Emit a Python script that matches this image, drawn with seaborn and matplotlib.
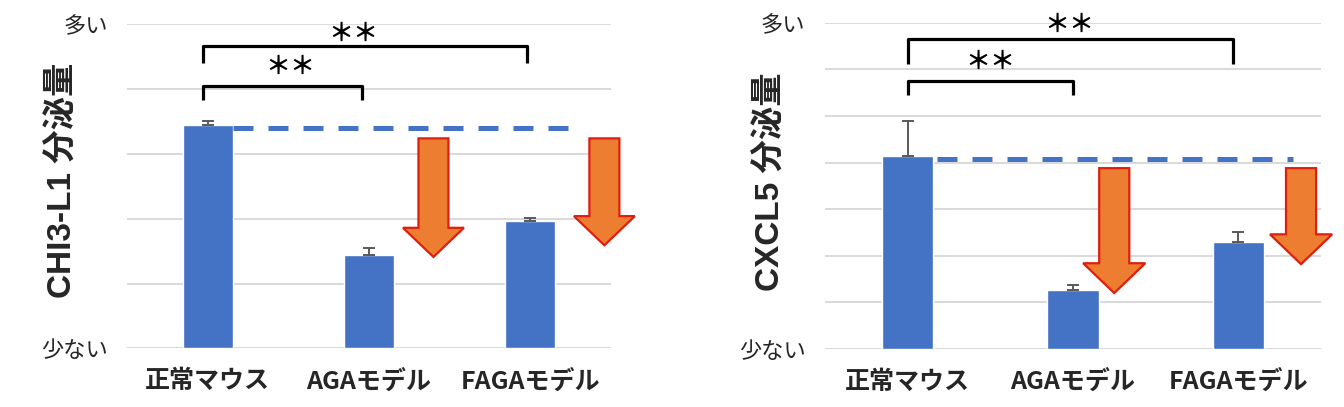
import numpy as np
import pandas as pd
import matplotlib
matplotlib.use("Agg")
import matplotlib.pyplot as plt
import seaborn as sns
from matplotlib.patches import Polygon

# データ
groups = ["正常マウス", "AGAモデル", "FAGAモデル"]
chi3_vals = [3.44, 1.44, 1.96]
chi3_err = [0.07, 0.11, 0.05]
cxcl5_vals = [4.15, 1.27, 2.30]
cxcl5_err = [0.75, 0.10, 0.20]
ylabels = ["CHI3-L1 分泌量", "CXCL5 分泌量"]
yend_labels = ["少ない", "多い"]

sns.set_style("white")
plt.rcParams["font.family"] = ["Noto Sans CJK JP", "DejaVu Sans"]

BLUE = "#4472C4"
ORANGE = "#ED7D31"
RED = "#E01E0E"
GRID = "#D9D9D9"


def arrow(ax, cx, top, head, tip, sw, hw):
    pts = [(cx - sw, top), (cx + sw, top), (cx + sw, head), (cx + hw, head),
           (cx, tip), (cx - hw, head), (cx - sw, head)]
    ax.add_patch(Polygon(pts, closed=True, facecolor=ORANGE, edgecolor=RED,
                         lw=1.6, clip_on=False, zorder=4))


def bracket(ax, x0, x1, y, yleg, sx, sy):
    ax.plot([x0, x0, x1, x1], [yleg, y, y, yleg], color="black", lw=2.3,
            solid_joinstyle="round", solid_capstyle="butt", clip_on=False, zorder=5)
    ax.text(sx, sy, "＊＊", ha="center", va="center", fontsize=18,
            fontweight="bold", color="black")


def panel(ax, vals, errs, ymax, ylabel, label_x, label_y):
    df = pd.DataFrame({"group": groups, "value": vals})
    sns.barplot(data=df, x="group", y="value", color=BLUE, saturation=1,
                width=0.31, errorbar=None, ax=ax, zorder=2)
    ax.errorbar(range(len(vals)), vals, yerr=[[0] * len(errs), errs], fmt="none",
                ecolor="#595959", elinewidth=1.4, capsize=4, capthick=1.4, zorder=3)
    ax.set_xlim(-0.5, 2.5)
    ax.set_ylim(0, ymax)
    ticks = list(range(ymax + 1))
    ax.set_yticks(ticks)
    ax.set_yticklabels([yend_labels[0]] + [""] * (ymax - 1) + [yend_labels[1]],
                       fontsize=16, color="#262626")
    ax.yaxis.grid(True, color=GRID, lw=1.4, zorder=0)
    ax.set_axisbelow(True)
    for s in ax.spines.values():
        s.set_visible(False)
    ax.tick_params(axis="both", length=0)
    ax.tick_params(axis="y", pad=14)
    ax.tick_params(axis="x", pad=15)
    for t in ax.get_xticklabels():
        t.set_fontsize(18)
        t.set_fontweight("bold")
    ax.set_xlabel("")
    ax.set_ylabel(ylabel, fontsize=24, fontweight="bold",
                  family=["Liberation Sans", "Noto Sans CJK JP"])
    ax.yaxis.set_label_coords(label_x, label_y)


fig = plt.figure(figsize=(13.44, 4.07), dpi=100)
ax1 = fig.add_axes([0.0945, 0.1442, 0.360, 0.796])
ax2 = fig.add_axes([0.6138, 0.1425, 0.369, 0.8017])

# 左: CHI3-L1
panel(ax1, chi3_vals, chi3_err, 5, ylabels[0], -0.10, 0.52)
ax1.plot([0.16, 2.29], [3.40, 3.40], color=BLUE, lw=3.6, dashes=(4, 3), zorder=3)
bracket(ax1, -0.03, 1.98, 4.67, 4.41, 0.90, 4.86)
bracket(ax1, -0.03, 0.96, 4.05, 3.83, 0.51, 4.35)
arrow(ax1, 1.40, 3.24, 1.86, 1.41, 0.093, 0.189)
arrow(ax1, 2.46, 3.24, 2.04, 1.59, 0.093, 0.189)

# 右: CXCL5
panel(ax2, cxcl5_vals, cxcl5_err, 7, ylabels[1], -0.077, 0.512)
ax2.plot([0.18, 2.33], [4.07, 4.07], color=BLUE, lw=3.6, dashes=(4, 3), zorder=3)
bracket(ax2, 0.0, 1.97, 6.65, 6.12, 0.98, 6.95)
bracket(ax2, 0.0, 1.0, 5.74, 5.45, 0.50, 6.17)
arrow(ax2, 1.25, 3.88, 1.84, 1.20, 0.091, 0.188)
arrow(ax2, 2.38, 3.88, 2.46, 1.82, 0.091, 0.188)

fig.savefig("out.png", dpi=100)
